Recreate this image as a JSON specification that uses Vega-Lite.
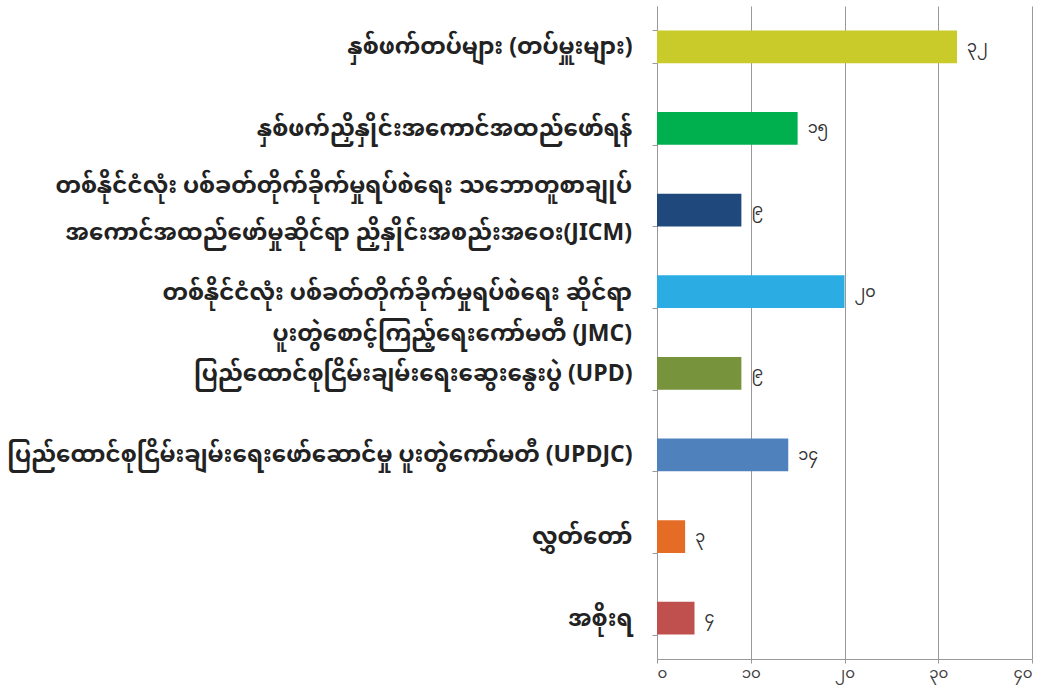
{
  "$schema": "https://vega.github.io/schema/vega-lite/v6.json",
  "width": 375,
  "height": 653,
  "autosize": "none",
  "padding": {"left": 657, "top": 6, "right": 15, "bottom": 28},
  "background": "white",
  "config": {"view": {"stroke": null}},
  "data": {
    "values": [
      {"order": 1, "category": "နှစ်ဖက်တပ်များ (တပ်မှူးများ)", "value": 32, "label": "၃၂", "color": "#C9CB2A"},
      {"order": 2, "category": "နှစ်ဖက်ညှိနှိုင်းအကောင်အထည်ဖော်ရန်", "value": 15, "label": "၁၅", "color": "#00B04F"},
      {"order": 3, "category": "တစ်နိုင်ငံလုံး ပစ်ခတ်တိုက်ခိုက်မှုရပ်စဲရေး သဘောတူစာချုပ်|အကောင်အထည်ဖော်မှုဆိုင်ရာ ညှိနှိုင်းအစည်းအဝေး(JICM)", "value": 9, "label": "၉", "color": "#1F497D"},
      {"order": 4, "category": "တစ်နိုင်ငံလုံး ပစ်ခတ်တိုက်ခိုက်မှုရပ်စဲရေး ဆိုင်ရာ|ပူးတွဲစောင့်ကြည့်ရေးကော်မတီ (JMC)", "value": 20, "label": "၂၀", "color": "#2BADE3"},
      {"order": 5, "category": "ပြည်ထောင်စုငြိမ်းချမ်းရေးဆွေးနွေးပွဲ (UPD)", "value": 9, "label": "၉", "color": "#77933C"},
      {"order": 6, "category": "ပြည်ထောင်စုငြိမ်းချမ်းရေးဖော်ဆောင်မှု ပူးတွဲကော်မတီ (UPDJC)", "value": 14, "label": "၁၄", "color": "#4F81BD"},
      {"order": 7, "category": "လွှတ်တော်", "value": 3, "label": "၃", "color": "#E46C25"},
      {"order": 8, "category": "အစိုးရ", "value": 4, "label": "၄", "color": "#C0504D"}
    ]
  },
  "encoding": {
    "y": {
      "field": "category",
      "type": "nominal",
      "sort": {"field": "order"},
      "scale": {"paddingInner": 0.6, "paddingOuter": 0.3},
      "axis": {
        "title": null,
        "labelExpr": "indexof(datum.label, '|') >= 0 ? '' : datum.label",
        "labelFont": "Noto Sans Myanmar, Padauk, Noto Sans, DejaVu Sans",
        "labelFontSize": 23,
        "labelFontWeight": "bold",
        "labelColor": "#222222",
        "labelLimit": 700,
        "labelPadding": 20,
        "tickSize": 5,
        "tickColor": "#999999",
        "domainColor": "#999999",
        "tickBand": "extent",
        "grid": false
      }
    },
    "x": {
      "field": "value",
      "type": "quantitative",
      "scale": {"domain": [0, 40]},
      "axis": {
        "title": null,
        "values": [0, 10, 20, 30, 40],
        "labelExpr": "datum.value == 0 ? '၀' : datum.value == 10 ? '၁၀' : datum.value == 20 ? '၂၀' : datum.value == 30 ? '၃၀' : '၄၀'",
        "labelFont": "Noto Sans Myanmar, Padauk, Noto Sans, DejaVu Sans",
        "labelFontSize": 15,
        "labelColor": "#404040",
        "labelPadding": 2,
        "tickSize": 4,
        "tickColor": "#999999",
        "domainColor": "#999999",
        "gridColor": "#999999",
        "grid": true
      }
    }
  },
  "layer": [
    {
      "mark": {"type": "bar"},
      "encoding": {
        "color": {"field": "color", "type": "nominal", "scale": null, "legend": null}
      }
    },
    {
      "mark": {"type": "text", "align": "left", "baseline": "middle", "dx": 10, "fontSize": 16, "font": "Noto Sans Myanmar, Padauk, Noto Sans, DejaVu Sans", "color": "#333333"},
      "encoding": {"text": {"field": "label"}}
    },
    {
      "mark": {"type": "text", "align": "right", "baseline": "middle", "dx": -25, "dy": -24, "lineBreak": "|", "lineHeight": 47, "fontSize": 23, "fontWeight": "bold", "font": "Noto Sans Myanmar, Padauk, Noto Sans, DejaVu Sans", "color": "#222222"},
      "encoding": {
        "text": {"condition": {"test": "datum.order == 3", "field": "category"}, "value": ""},
        "x": {"datum": 0}
      }
    },
    {
      "mark": {"type": "text", "align": "right", "baseline": "middle", "dx": -25, "dy": 1, "lineBreak": "|", "lineHeight": 41, "fontSize": 23, "fontWeight": "bold", "font": "Noto Sans Myanmar, Padauk, Noto Sans, DejaVu Sans", "color": "#222222"},
      "encoding": {
        "text": {"condition": {"test": "datum.order == 4", "field": "category"}, "value": ""},
        "x": {"datum": 0}
      }
    }
  ]
}
